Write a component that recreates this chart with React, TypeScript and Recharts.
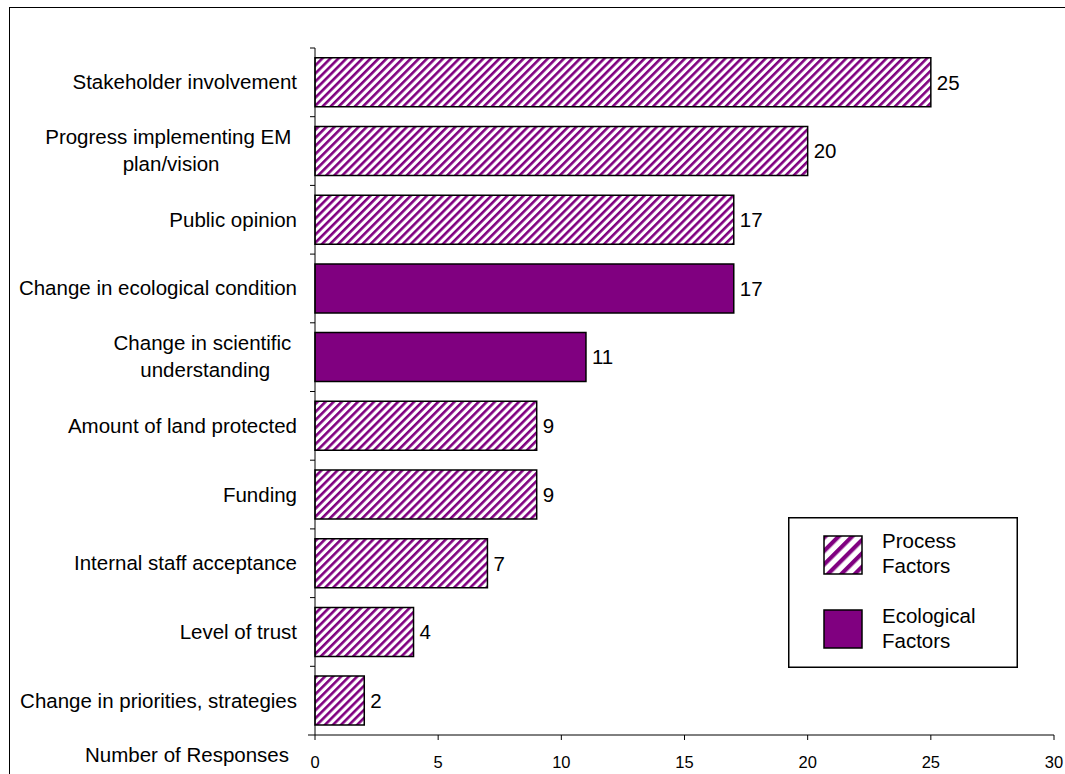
import React from 'react';
import { BarChart, Bar, XAxis, YAxis, Cell, LabelList, Legend, Label } from 'recharts';

// ---------- data ----------
const categoryLines: string[][] = [
  ['Stakeholder involvement'],
  ['Progress implementing EM ', 'plan/vision'],
  ['Public opinion'],
  ['Change in ecological condition'],
  ['Change in scientific ', 'understanding'],
  ['Amount of land protected'],
  ['Funding'],
  ['Internal staff acceptance'],
  ['Level of trust'],
  ['Change in priorities, strategies'],
];
const categories = categoryLines.map((l) => l.map((s) => s.trim()).join(' '));
const responses = [25, 20, 17, 17, 11, 9, 9, 7, 4, 2];
const factorKinds = [
  'process', 'process', 'process', 'ecological', 'ecological',
  'process', 'process', 'process', 'process', 'process',
];
const legendKinds = ['process', 'ecological'];
const legendLines = [['Process', 'Factors'], ['Ecological', 'Factors']];
const xTicks = [0, 5, 10, 15, 20, 25, 30];
const xDomain = [0, 30];
const xAxisTitle = 'Number of Responses';

const data = categories.map((c, i) => ({ category: c, value: responses[i], kind: factorKinds[i] }));

// ---------- layout / style ----------
const W = 1065;
const H = 774;
const MARGIN = { top: 48, right: 11, left: 0, bottom: 0 };
const Y_AXIS_W = 315;
const X_AXIS_H = 39;
const BAND = (H - MARGIN.top - MARGIN.bottom - X_AXIS_H) / categories.length;
const LABEL_RIGHT = 297;
const FS = 20.5;
const FONT = '"Liberation Sans", Arial, sans-serif';
const PURPLE = '#800080';

let ctx: CanvasRenderingContext2D | null = null;
function measure(s: string): number {
  if (!ctx) {
    const c = document.createElement('canvas');
    ctx = c.getContext('2d');
  }
  if (!ctx) return s.length * FS * 0.5;
  ctx.font = `${FS}px "Liberation Sans"`;
  return ctx.measureText(s).width;
}

const kindFill = (k: string) => (k === 'process' ? 'url(#hatch)' : PURPLE);

const CategoryTick = (props: any) => {
  const { y, payload } = props;
  const idx = categories.indexOf(payload.value);
  const lines = idx >= 0 ? categoryLines[idx] : [String(payload.value)];
  const half = BAND / 2;
  const ax = MARGIN.left + Y_AXIS_W;
  let text: React.ReactNode;
  if (lines.length === 1) {
    text = (
      <text x={LABEL_RIGHT} y={y + 7} textAnchor="end" fontSize={FS} fill="#000" fontFamily={FONT}>
        {lines[0]}
      </text>
    );
  } else {
    const w = Math.max(...lines.map(measure));
    const cx = LABEL_RIGHT - w / 2;
    text = (
      <g>
        {lines.map((ln, i) => (
          <text
            key={i}
            x={cx}
            y={y - 7 + i * 27}
            textAnchor="middle"
            fontSize={FS}
            fill="#000"
            fontFamily={FONT}
            style={{ whiteSpace: 'pre' }}
          >
            {ln}
          </text>
        ))}
      </g>
    );
  }
  return (
    <g>
      <line x1={ax - 5} x2={ax} y1={y - half} y2={y - half} stroke="#000" strokeWidth={1} />
      {idx === categories.length - 1 && (
        <line x1={ax - 7} x2={ax} y1={y + half} y2={y + half} stroke="#000" strokeWidth={1} />
      )}
      {text}
    </g>
  );
};

const LegendBox = () => (
  <svg width={230} height={151} style={{ display: 'block', fontFamily: FONT }}>
    <defs>
      <pattern id="hatchLegend" patternUnits="userSpaceOnUse" width={9.5} height={9.5} patternTransform="rotate(45)">
        <rect x={0} y={0} width={9.5} height={9.5} fill="#fff" />
        <rect x={0} y={0} width={4.2} height={9.5} fill={PURPLE} />
      </pattern>
    </defs>
    <rect x={0.75} y={0.75} width={228.5} height={149.5} fill="#fff" stroke="#000" strokeWidth={1.5} />
    {legendKinds.map((k, i) => (
      <g key={k}>
        <rect
          x={36}
          y={19 + i * 74}
          width={38}
          height={38}
          fill={k === 'process' ? 'url(#hatchLegend)' : PURPLE}
          stroke="#000"
          strokeWidth={1.5}
        />
        {legendLines[i].map((ln, j) => (
          <text key={j} x={94} y={31 + i * 75 + j * 25} fontSize={FS} fill="#000" fontFamily={FONT}>
            {ln}
          </text>
        ))}
      </g>
    ))}
  </svg>
);

export default function App() {
  return (
    <div
      style={{
        position: 'absolute',
        left: 0,
        top: 0,
        width: W,
        height: H,
        overflow: 'hidden',
        fontFamily: FONT,
      }}
    >
      <div style={{ position: 'absolute', left: 9, top: 7, width: W - 9, height: 1, background: '#000' }} />
      <div style={{ position: 'absolute', left: 9, top: 7, width: 1, height: H - 7, background: '#000' }} />
      <div style={{ position: 'absolute', left: 0, top: 0 }}>
        <BarChart
          width={W}
          height={H}
          data={data}
          layout="vertical"
          margin={MARGIN}
          barCategoryGap="14.3%"
          style={{ fontFamily: FONT }}
        >
          <defs>
            <pattern id="hatch" patternUnits="userSpaceOnUse" width={5.7} height={5.7} patternTransform="rotate(45)">
              <rect x={0} y={0} width={5.7} height={5.7} fill="#fff" />
              <rect x={0} y={0} width={2.6} height={5.7} fill={PURPLE} />
            </pattern>
          </defs>
          <XAxis
            type="number"
            domain={xDomain}
            ticks={xTicks}
            interval={0}
            height={X_AXIS_H}
            tickSize={5}
            tickMargin={16}
            axisLine={{ stroke: '#000' }}
            tickLine={{ stroke: '#000' }}
            tick={{ fill: '#000', fontSize: 16.5, fontFamily: FONT }}
          >
            <Label value={xAxisTitle} position="left" offset={26} fill="#000" fontSize={FS} fontFamily={FONT} />
          </XAxis>
          <YAxis
            type="category"
            dataKey="category"
            width={Y_AXIS_W}
            interval={0}
            tickLine={false}
            axisLine={{ stroke: '#000' }}
            tick={(p: any) => <CategoryTick {...p} />}
          />
          <Legend
            layout="vertical"
            align="center"
            verticalAlign="middle"
            wrapperStyle={{ left: 788, top: 517, width: 230, height: 151 }}
            content={() => <LegendBox />}
          />
          <Bar dataKey="value" isAnimationActive={false} stroke="#000" strokeWidth={1.5}>
            {data.map((d, i) => (
              <Cell key={i} fill={kindFill(d.kind)} />
            ))}
            <LabelList dataKey="value" position="right" offset={6} fill="#000" fontSize={FS} fontFamily={FONT} />
          </Bar>
        </BarChart>
      </div>
    </div>
  );
}
